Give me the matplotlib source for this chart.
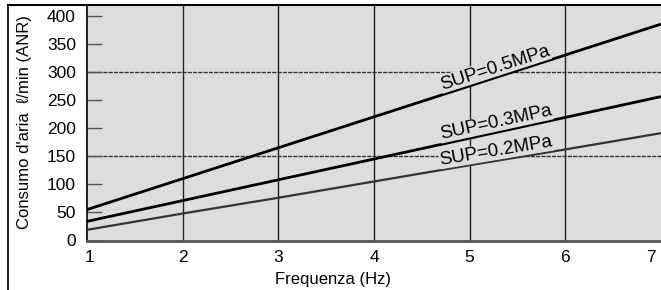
import numpy as np
import matplotlib
matplotlib.use('Agg')
import matplotlib.pyplot as plt
import matplotlib.transforms as mtransforms
from matplotlib.lines import Line2D

plt.rcParams['font.family'] = ['Liberation Sans', 'DejaVu Sans']

# Data
freq = [1, 2, 3, 4, 5, 6, 7]
sup_05 = [55, 110, 165, 220, 275, 330, 385]
sup_03 = [34, 71, 108, 145, 182, 219, 256]
sup_02 = [19, 48, 76, 105, 134, 162, 191]
labels = ['SUP=0.5MPa', 'SUP=0.3MPa', 'SUP=0.2MPa']
label_x = 5.29

y_ticks = [0, 50, 100, 150, 200, 250, 300, 350, 400]
grid_y = [150, 300]
grid_x = [2, 3, 4, 5, 6]

bg = '#dddddd'

fig = plt.figure(figsize=(6.61, 2.90), dpi=100)
ax = fig.add_axes([87/661, 49.5/290, 574/661, 235.5/290])
ax.set_facecolor(bg)

ax.set_xlim(1, 6.985)
ax.set_ylim(0, 419)

# grid
for gx in grid_x:
    ax.axvline(gx, color='#222222', lw=1.0, zorder=1)
for gy in grid_y:
    ax.axhline(gy, color='#333333', lw=1.0, ls=(0, (3, 0.8)), zorder=1)

series = [sup_05, sup_03, sup_02]
colors = ['black', 'black', '#333333']
widths = [2.0, 2.0, 1.6]
for vals, c, w in zip(series, colors, widths):
    ax.plot(freq, vals, color=c, lw=w, zorder=3, solid_capstyle='butt')

# rotated curve labels sitting on the curves
for vals, lab in zip(series, labels):
    slope = (vals[-1] - vals[0]) / (freq[-1] - freq[0])
    p0 = ax.transData.transform((1, 0))
    p1 = ax.transData.transform((2, slope))
    ang = np.degrees(np.arctan2(p1[1] - p0[1], p1[0] - p0[0]))
    ly = np.interp(label_x, freq, vals) + 2
    ax.text(label_x, ly, lab, fontsize=13.5, rotation=ang, rotation_mode='anchor',
            ha='center', va='bottom', zorder=4,
            bbox=dict(facecolor=bg, edgecolor='none', pad=0.3))

ax.set_yticks(y_ticks)
ax.set_xticks(freq)
ax.tick_params(axis='y', direction='in', length=11, width=1, color='#555555',
               pad=8, labelsize=12.5)
ax.tick_params(axis='x', length=0, pad=7, labelsize=12.5)

# nudge first and last x tick labels like the original
xl = ax.get_xticklabels()
xl[0].set_transform(xl[0].get_transform() + mtransforms.ScaledTranslation(3/100, 0, fig.dpi_scale_trans))
xl[-1].set_transform(xl[-1].get_transform() + mtransforms.ScaledTranslation(-10/100, 0, fig.dpi_scale_trans))

ax.spines['right'].set_visible(False)
ax.spines['top'].set_visible(False)
ax.spines['left'].set_color('black')
ax.spines['left'].set_linewidth(1.2)
ax.spines['bottom'].set_color('#555555')
ax.spines['bottom'].set_linewidth(2)

ax.set_xlabel('Frequenza (Hz)', fontsize=12)
ax.xaxis.set_label_coords(0.429, -0.134)
ax.set_ylabel('Consumo d\'aria  ℓ/min (ANR)', fontsize=12)
ax.yaxis.set_label_coords(-0.096, 0.503)

# outer frame
fig.add_artist(Line2D([7.5/661, 1], [1 - 4.5/290, 1 - 4.5/290], color='black', lw=1.5))
fig.add_artist(Line2D([7.5/661, 7.5/661], [0, 1 - 4.5/290], color='black', lw=1.2))

fig.savefig('out.png', dpi=100)
